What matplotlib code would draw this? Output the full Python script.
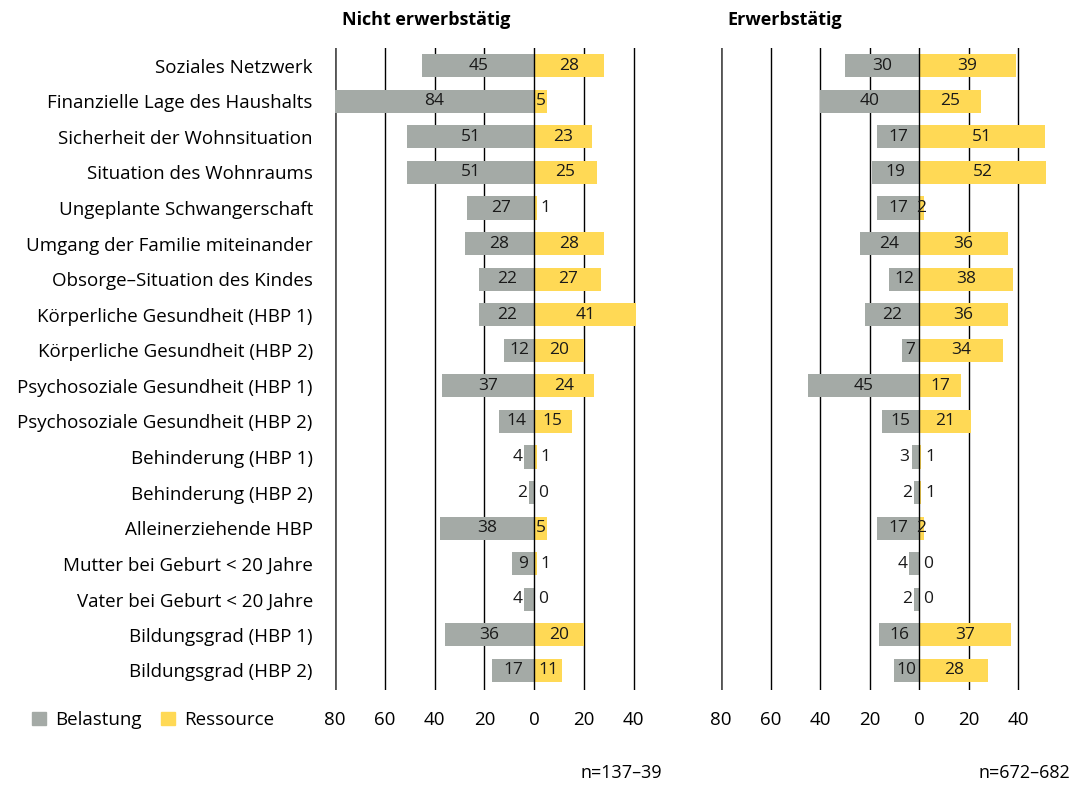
import numpy as np
import matplotlib.pyplot as plt
from matplotlib.patches import Patch

plt.rcParams['font.family'] = ['Open Sans', 'DejaVu Sans']

categories = [
    "Soziales Netzwerk",
    "Finanzielle Lage des Haushalts",
    "Sicherheit der Wohnsituation",
    "Situation des Wohnraums",
    "Ungeplante Schwangerschaft",
    "Umgang der Familie miteinander",
    "Obsorge–Situation des Kindes",
    "Körperliche Gesundheit (HBP 1)",
    "Körperliche Gesundheit (HBP 2)",
    "Psychosoziale Gesundheit (HBP 1)",
    "Psychosoziale Gesundheit (HBP 2)",
    "Behinderung (HBP 1)",
    "Behinderung (HBP 2)",
    "Alleinerziehende HBP",
    "Mutter bei Geburt < 20 Jahre",
    "Vater bei Geburt < 20 Jahre",
    "Bildungsgrad (HBP 1)",
    "Bildungsgrad (HBP 2)",
]

# Nicht erwerbstätig
belastung_ne = [45, 84, 51, 51, 27, 28, 22, 22, 12, 37, 14, 4, 2, 38, 9, 4, 36, 17]
ressource_ne = [28, 5, 23, 25, 1, 28, 27, 41, 20, 24, 15, 1, 0, 5, 1, 0, 20, 11]
# Erwerbstätig
belastung_e = [30, 40, 17, 19, 17, 24, 12, 22, 7, 45, 15, 3, 2, 17, 4, 2, 16, 10]
ressource_e = [39, 25, 51, 52, 2, 36, 38, 36, 34, 17, 21, 1, 1, 2, 0, 0, 37, 28]

titles = ["Nicht erwerbstätig", "Erwerbstätig"]
n_labels = ["n=137–39", "n=672–682"]
ticks = [-80, -60, -40, -20, 0, 20, 40]

GRAY = "#A4AAA6"
YELLOW = "#FFD955"
XMIN, XMAX = -80, 51.3

fig = plt.figure(figsize=(10.74, 7.85), dpi=100)
ax1 = fig.add_axes([335/1074, 1-690/785, 327/1074, 642/785])
ax2 = fig.add_axes([721/1074, 1-690/785, 325/1074, 642/785])

y = np.arange(len(categories))

def draw(ax, bel, res, title):
    bel = np.array(bel)
    res = np.array(res)
    for t in ticks:
        if t == -80:
            ax.axvline(t, color="#555555", lw=2, zorder=0)
        else:
            ax.axvline(t, color="black", lw=1, zorder=0 if t != 0 else 3)
    ax.barh(y, -np.minimum(bel, 80), height=0.65, color=GRAY, zorder=2)
    ax.barh(y, res, height=0.65, color=YELLOW, zorder=2)
    for i in range(len(y)):
        b = bel[i]
        xb = -min(b, 80) / 2 if b >= 5 else -(b + 2.8)
        ax.text(xb, y[i], str(b), ha="center", va="center", fontsize=12.5,
                color="#1a1a1a", zorder=4)
        r = res[i]
        xr = min(r, XMAX) / 2 if r >= 2 else r + 3.5
        ax.text(xr, y[i], str(r), ha="center", va="center", fontsize=12.5,
                color="#1a1a1a", zorder=4)
    ax.set_xlim(XMIN, XMAX)
    ax.set_ylim(len(y) - 0.45, -0.5)
    ax.set_xticks(ticks)
    ax.set_xticklabels([str(abs(t)) for t in ticks], fontsize=13.5)
    ax.tick_params(axis="x", length=0, pad=15)
    ax.set_yticks([])
    for s in ax.spines.values():
        s.set_visible(False)
    ax.text(0.02, 1.03, title, transform=ax.transAxes, ha="left", va="bottom",
            fontsize=13, fontweight="bold")

draw(ax1, belastung_ne, ressource_ne, titles[0])
draw(ax2, belastung_e, ressource_e, titles[1])

ax1.set_yticks(y)
ax1.set_yticklabels(categories, fontsize=13.5)
ax1.tick_params(axis="y", length=0, pad=16)

fig.text(662/1074, 1-773/785, n_labels[0], ha="right", va="center", fontsize=13)
fig.text(1070/1074, 1-773/785, n_labels[1], ha="right", va="center", fontsize=13)

handles = [Patch(color=GRAY, label="Belastung"), Patch(color=YELLOW, label="Ressource")]
fig.legend(handles=handles, loc="center left", bbox_to_anchor=(32/1074, 1-720/785),
           ncol=2, frameon=False, fontsize=13.5, handlelength=0.75, handleheight=0.75,
           handletextpad=0.5, columnspacing=1.0, borderaxespad=0, borderpad=0)

fig.savefig("out.png", dpi=100)
